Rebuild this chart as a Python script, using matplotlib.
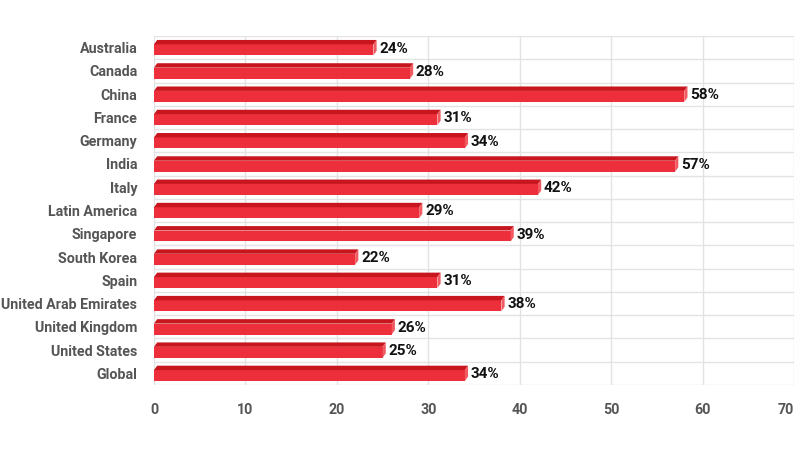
import matplotlib
matplotlib.use("Agg")
import matplotlib.pyplot as plt
from matplotlib.patches import Polygon, Rectangle

categories = ["Australia", "Canada", "China", "France", "Germany", "India", "Italy",
              "Latin America", "Singapore", "South Korea", "Spain",
              "United Arab Emirates", "United Kingdom", "United States", "Global"]
values = [24, 28, 58, 31, 34, 57, 42, 29, 39, 22, 31, 38, 26, 25, 34]
xticks = [0, 10, 20, 30, 40, 50, 60, 70]

plt.rcParams['font.family'] = ['Roboto', 'DejaVu Sans']

fig = plt.figure(figsize=(7.99, 4.57), dpi=100)
# axes: left 154px, right 794px, top 36px, bottom 385px
ax = fig.add_axes([154 / 799, 1 - 385 / 457, (794 - 154) / 799, (385 - 36) / 457])
ax.set_xlim(0, 70)
ax.set_ylim(len(categories) - 0.5, -0.5)

front_c = "#EC2F3A"
top_c = "#C8161F"
side_c = "#F25A62"

h = 0.66      # total bar height
dy = 0.19     # depth (vertical)
dx = 0.35     # depth (horizontal)

for i, v in enumerate(values):
    top = i - h / 2
    bot = i + h / 2
    ftop = top + dy
    ax.add_patch(Rectangle((0, ftop), v, bot - ftop, facecolor=front_c, edgecolor='none', zorder=3))
    ax.add_patch(Polygon([(0, ftop), (dx, top), (v + dx, top), (v, ftop)], closed=True,
                         facecolor=top_c, edgecolor='none', zorder=3))
    ax.add_patch(Polygon([(v, ftop), (v + dx, top), (v + dx, bot - dy), (v, bot)], closed=True,
                         facecolor=side_c, edgecolor='none', zorder=3))
    ax.text(v + dx + 0.3, i + 0.04, f"{v}%", va='center', ha='left', fontsize=11,
            fontweight='bold', color='#111111', zorder=4)

grid_c = "#E3E3E3"
for x in xticks:
    ax.axvline(x, color=grid_c, lw=1, zorder=1)
for k in range(len(categories) + 1):
    ax.axhline(k - 0.5, color=grid_c, lw=1, zorder=1)

ax.set_xticks(xticks)
ax.set_xticklabels([str(x) for x in xticks])
ax.set_yticks(range(len(categories)))
ax.set_yticklabels(categories)
ax.tick_params(axis='both', length=0, labelcolor='#555555', labelsize=10.3)
ax.tick_params(axis='y', pad=12)
ax.tick_params(axis='x', pad=13)
for lab in ax.get_xticklabels() + ax.get_yticklabels():
    lab.set_fontweight('bold')
ax.get_xticklabels()[-1].set_horizontalalignment('right')
for s in ax.spines.values():
    s.set_visible(False)

fig.savefig("out.png", dpi=100, facecolor='white')
